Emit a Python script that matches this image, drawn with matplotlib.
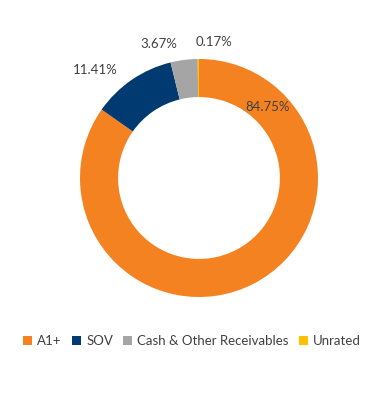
import matplotlib.pyplot as plt
from matplotlib.patches import Patch

plt.rcParams['font.family'] = ['Lato', 'DejaVu Sans']

labels = ["A1+", "SOV", "Cash & Other Receivables", "Unrated"]
values = [84.75, 11.41, 3.67, 0.17]
colors = ["#F58220", "#003A70", "#A5A5A5", "#FFC000"]
# where each percentage label sits, in pie radius units
label_pos = [(0.58, 0.60), (-0.87, 0.91), (-0.34, 1.13), (0.13, 1.14)]

fig = plt.figure(figsize=(3.69, 4.01), dpi=100)
ax = fig.add_axes([(199 - 119) / 369, (401 - 178 - 119) / 401, 238 / 369, 238 / 401])

ax.pie(values, colors=colors, startangle=90, counterclock=False, radius=1,
       wedgeprops=dict(width=0.32, edgecolor="none"))
ax.set_xlim(-1, 1)
ax.set_ylim(-1, 1)
ax.axis("off")

for v, (x, y) in zip(values, label_pos):
    ax.text(x, y, f"{v:.2f}%", ha="center", va="center", fontsize=9.5,
            color="#404040", clip_on=False)

handles = [Patch(facecolor=c, edgecolor="none") for c in colors]
fig.legend(handles, labels, loc="center", bbox_to_anchor=(0.52, 1 - 341 / 401),
           ncol=4, frameon=False, fontsize=9.5, handlelength=0.7, handleheight=0.7,
           handletextpad=0.4, columnspacing=0.75, labelcolor="#404040")

fig.savefig("out.png", dpi=100, facecolor="white")
